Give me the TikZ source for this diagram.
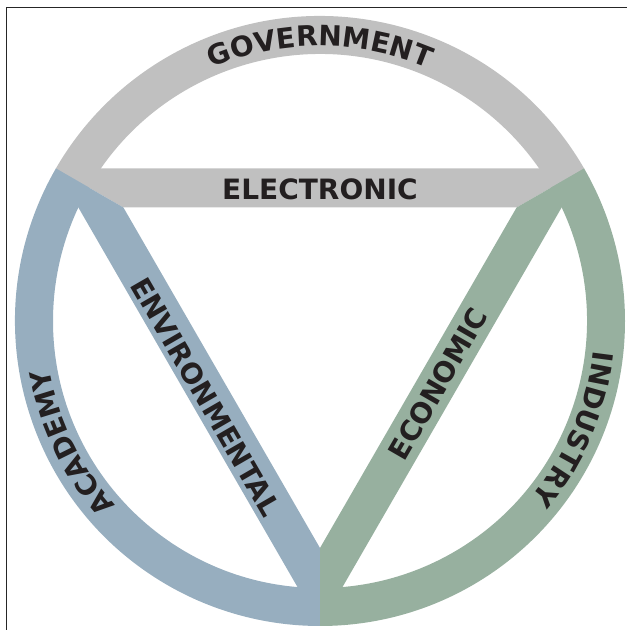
\documentclass[tikz,border=0pt]{standalone}
\usepackage{fontspec}
\setmainfont{DejaVu Sans}
\usetikzlibrary{decorations.text}

\definecolor{govgray}{HTML}{C0C0C0}
\definecolor{acablue}{HTML}{97AEBF}
\definecolor{indgreen}{HTML}{97B09F}
\definecolor{inkblack}{HTML}{231F20}

\newcommand{\bandfont}{\fontsize{28}{30}\selectfont\bfseries}

\tikzset{
    bandtext/.style = {font=\bandfont, text=inkblack, inner sep=0pt},
    arctext/.style  = {decorate, decoration={text along path, text align=center,
                       text={|\bandfont\color{inkblack}|#1}}}
}

\begin{document}
\begin{tikzpicture}[x=1pt, y=1pt]
    \useasboundingbox (0,0) rectangle (627,630);

    % frame
    \draw[line width=1pt, black!85] (6.5,0) -- (6.5,622.7) -- (627,622.7);

    \def \R {305};
    \def \r {267};
    \def \t {227};
    \def \s {275};

    \begin{scope}[shift={(320,309)}]
        \foreach \a/\b/\col in {30/150/govgray, 150/270/acablue, 270/390/indgreen}
        {
            \fill[\col] (\a:\R) arc[start angle=\a, end angle=\b, radius=\R]
                -- (\b:\r) arc[start angle=\b, end angle=\a, radius=\r] -- cycle;
            \fill[\col] (\a:\R) -- (\b:\R) -- (\b:\t) -- (\a:\t) -- cycle;
        }

        % words on the ring
        \path[arctext=GOVERNMENT] (135:\s) arc[start angle=135, end angle=45, radius=\s];
        \path[arctext=ACADEMY] (251:\s) arc[start angle=251, end angle=161, radius=\s];
        \path[arctext=INDUSTRY] (382:\s) arc[start angle=382, end angle=292, radius=\s];

        % words on the triangle
        \node[bandtext] (electronic) at (90:132) {ELECTRONIC};
        \node[bandtext, rotate=-60] (environmental) at (-114,-76) {ENVIRONMENTAL};
        \node[bandtext, rotate=60] (economic) at (118,-63) {ECONOMIC};
    \end{scope}
\end{tikzpicture}
\end{document}
